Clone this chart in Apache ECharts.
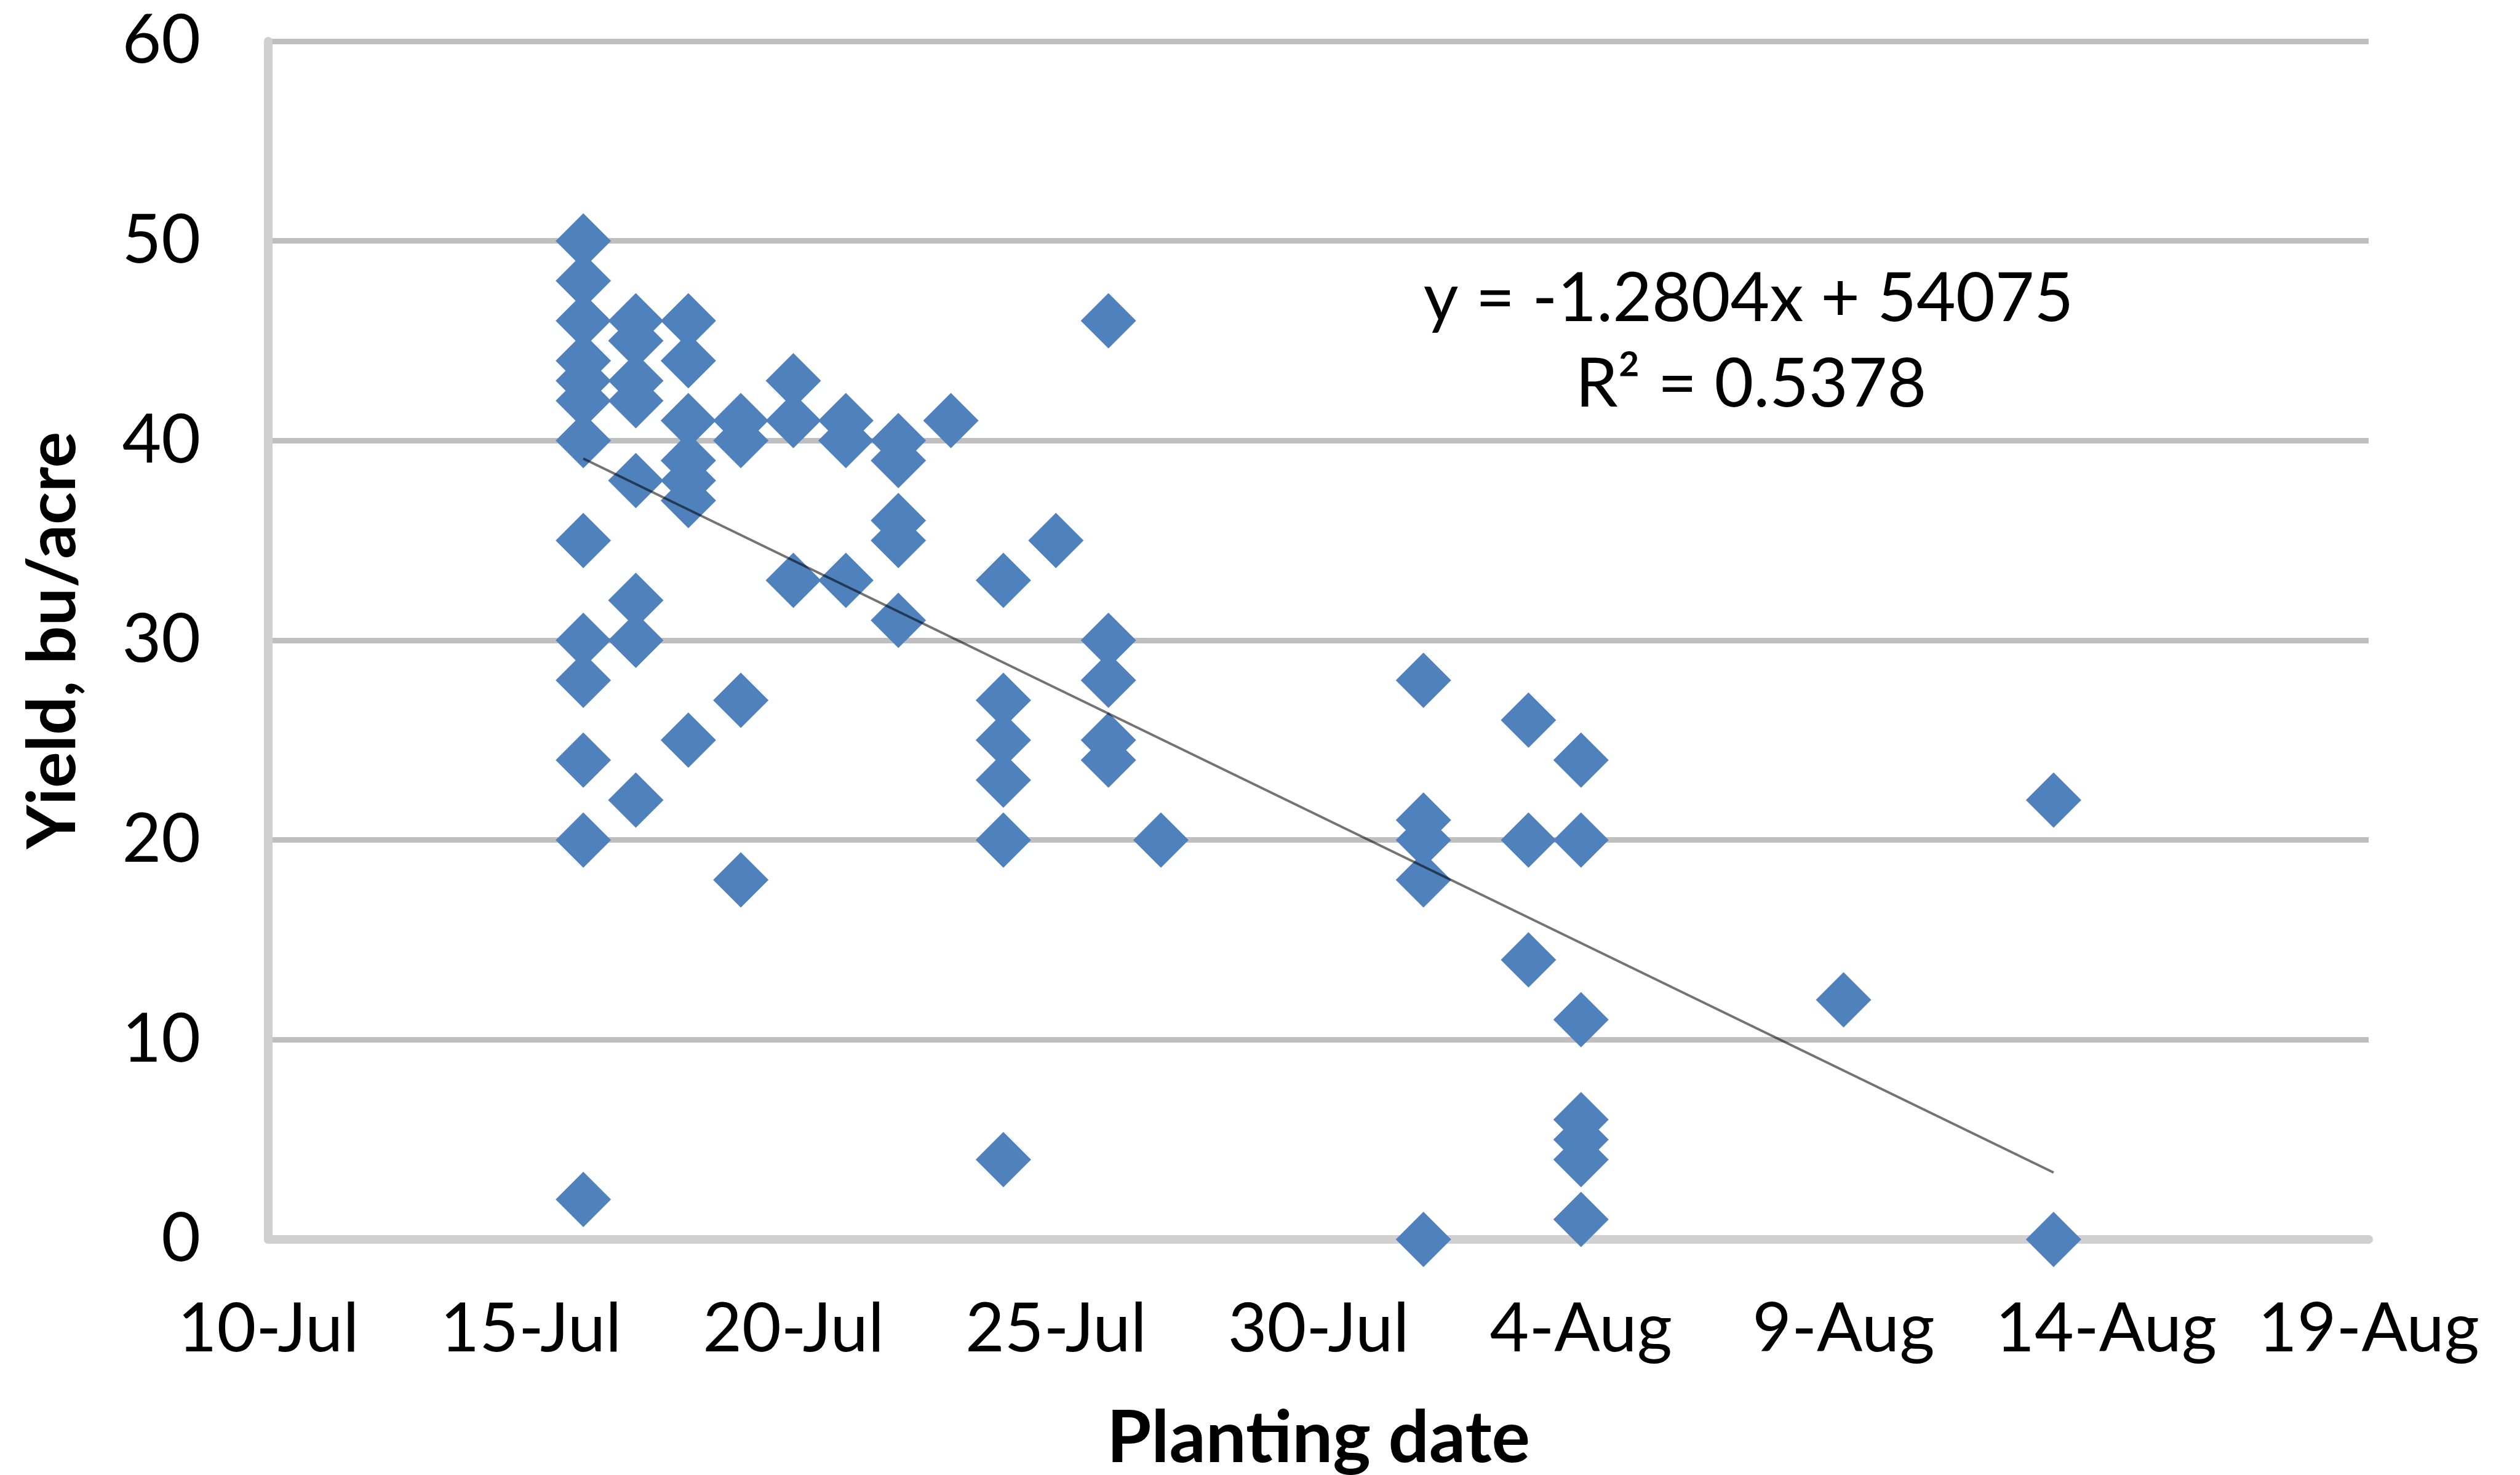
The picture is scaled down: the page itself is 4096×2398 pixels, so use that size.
<!DOCTYPE html>
<html>
<head>
<meta charset="utf-8">
<script src="https://cdn.jsdelivr.net/npm/echarts@6/dist/echarts.min.js"></script>
<style>
html,body{margin:0;padding:0;background:#fff;}
#chart{width:4096px;height:2398px;}
</style>
</head>
<body>
<div id="chart"></div>
<script>
// ---- data ----
const plantingDates = [
  '16-Jul','16-Jul','16-Jul','16-Jul','16-Jul','16-Jul','16-Jul','16-Jul','16-Jul','16-Jul','16-Jul','16-Jul','16-Jul',
  '17-Jul','17-Jul','17-Jul','17-Jul','17-Jul','17-Jul','17-Jul','17-Jul',
  '18-Jul','18-Jul','18-Jul','18-Jul','18-Jul','18-Jul','18-Jul',
  '19-Jul','19-Jul','19-Jul','19-Jul',
  '20-Jul','20-Jul','20-Jul',
  '21-Jul','21-Jul','21-Jul',
  '22-Jul','22-Jul','22-Jul','22-Jul','22-Jul',
  '23-Jul',
  '24-Jul','24-Jul','24-Jul','24-Jul','24-Jul','24-Jul',
  '25-Jul',
  '26-Jul','26-Jul','26-Jul','26-Jul','26-Jul',
  '27-Jul',
  '1-Aug','1-Aug','1-Aug','1-Aug','1-Aug',
  '3-Aug','3-Aug','3-Aug',
  '4-Aug','4-Aug','4-Aug','4-Aug','4-Aug','4-Aug','4-Aug',
  '9-Aug',
  '13-Aug','13-Aug'
];
const yieldValues = [
  50,48,46,44,43,42,40,35,30,28,24,20,2,
  46,45,43,42,38,32,30,22,
  46,44,41,39,38,37,25,
  41,40,27,18,
  43,41,33,
  41,40,33,
  40,39,36,35,31,
  41,
  33,27,25,23,20,4,
  35,
  46,30,28,25,24,
  20,
  28,21,20,18,0,
  26,20,14,
  24,20,11,6,5,4,1,
  12,
  22,0
];
// linear trendline end points as drawn in the reference
const trendDates = ['16-Jul','13-Aug'];
const trendValues = [39.1, 3.35];

const xTickRange = ['10-Jul','19-Aug'];
const xTickStepDays = 5;
const yTickRange = [0, 60];
const yTickStep = 10;

const equationText = 'y = -1.2804x + 54075';
const r2Text = 'R\u00B2 = 0.5378';
const xAxisTitle = 'Planting date';
const yAxisTitle = 'Yield, bu/acre';

// ---- helpers ----
const YEAR = 2015;
const MONTHS = ['Jan','Feb','Mar','Apr','May','Jun','Jul','Aug','Sep','Oct','Nov','Dec'];
function toSerial(s){
  const [d,m] = s.split('-');
  return Date.UTC(YEAR, MONTHS.indexOf(m), +d)/86400000 + 25569;
}
function fromSerial(v){
  const dt = new Date((v-25569)*86400000);
  return dt.getUTCDate() + '-' + MONTHS[dt.getUTCMonth()];
}

const scatterData = plantingDates.map((d,i)=>[toSerial(d), yieldValues[i]]);
const trendData = trendDates.map((d,i)=>[toSerial(d), trendValues[i]]);

const FONT = 'Lato';
const chart = echarts.init(document.getElementById('chart'), null, {renderer:'canvas'});
chart.setOption({
  backgroundColor:'#ffffff',
  animation:false,
  grid:{left:436, right:246, top:67, bottom:383, containLabel:false, outerBoundsMode:'none'},
  xAxis:{
    type:'value',
    min:toSerial(xTickRange[0]), max:toSerial(xTickRange[1]), interval:xTickStepDays,
    axisLine:{show:true, onZero:false, lineStyle:{color:'#d0d0d0', width:14}},
    axisTick:{show:false},
    splitLine:{show:false},
    axisLabel:{formatter:v=>fromSerial(v), color:'#000', fontFamily:FONT, fontSize:110, margin:92},
    name:xAxisTitle, nameLocation:'middle', nameGap:266,
    nameTextStyle:{color:'#000', fontFamily:FONT, fontWeight:'bold', fontSize:117}
  },
  yAxis:{
    type:'value',
    min:yTickRange[0], max:yTickRange[1], interval:yTickStep,
    axisLine:{show:true, lineStyle:{color:'#d0d0d0', width:14}},
    axisTick:{show:false},
    splitLine:{show:true, lineStyle:{color:'#bfbfbf', width:9}},
    axisLabel:{color:'#000', fontFamily:FONT, fontSize:110, margin:110},
    name:yAxisTitle, nameLocation:'middle', nameGap:294, nameRotate:90,
    nameTextStyle:{color:'#000', fontFamily:FONT, fontWeight:'bold', fontSize:110}
  },
  series:[
    {
      type:'scatter',
      data:scatterData,
      symbol:'diamond',
      symbolSize:90,
      itemStyle:{color:'#4F81BD', opacity:1},
      z:2
    },
    {
      type:'line',
      data:trendData,
      showSymbol:false,
      symbol:'none',
      lineStyle:{color:'rgba(0,0,0,0.55)', width:4},
      z:3,
      silent:true
    }
  ],
  graphic:[
    {type:'text', x:2842, y:487, z:10, style:{text:equationText, fill:'#000', font:'110px Lato', align:'center', verticalAlign:'middle'}},
    {type:'text', x:2846, y:626, z:10, style:{text:r2Text, fill:'#000', font:'110px Lato', align:'center', verticalAlign:'middle'}}
  ]
});
</script>
</body>
</html>
